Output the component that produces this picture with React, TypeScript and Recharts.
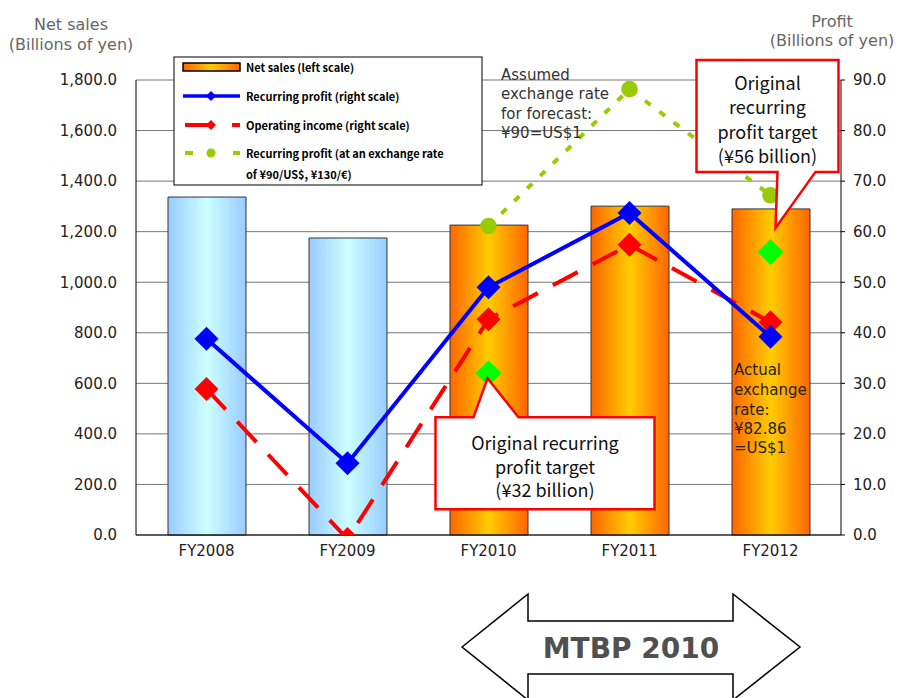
import React from 'react';
import { ComposedChart, Bar, Line, XAxis, YAxis, CartesianGrid, Cell, ReferenceDot } from 'recharts';

// Fiscal years and results (net sales in billions of yen, profits on the right scale)
const years = ['FY2008', 'FY2009', 'FY2010', 'FY2011', 'FY2012'];
const netSales = [1337, 1175, 1226, 1301, 1290];
const recurringProfit = [38.8, 14.2, 49.0, 63.7, 39.2];
const operatingIncome = [28.9, -0.8, 42.7, 57.4, 42.1];
const profitAtPlanRate = [null, null, 61.1, 88.2, 67.2];
const originalTarget = [null, null, 32, null, 56];
const mtbpPeriod = [false, false, true, true, true];

const salesTicks = [0, 200, 400, 600, 800, 1000, 1200, 1400, 1600, 1800];
const profitTicks = [0, 10, 20, 30, 40, 50, 60, 70, 80, 90];

const BLUE = '#0000ff';
const RED = '#ff0000';
const OLIVE = '#99cc00';
const LIME = '#00ff00';
const AXIS_FONT = 'DejaVu Sans, Verdana, sans-serif';
const JP_FONT = '"Noto Sans CJK JP", "Noto Sans", sans-serif';

const data = years.map((year, i) => ({
  year,
  netSales: netSales[i],
  recurringProfit: recurringProfit[i],
  operatingIncome: operatingIncome[i],
  profitAtPlanRate: profitAtPlanRate[i],
  originalTarget: originalTarget[i],
}));

const diamondDot = (color: string, half: number) => (props: any) => {
  const { cx, cy, index } = props;
  if (!Number.isFinite(cx) || !Number.isFinite(cy)) return <g key={`dot-${index}`} />;
  return (
    <path
      key={`dot-${index}`}
      d={`M${cx},${cy - half}L${cx + half},${cy}L${cx},${cy + half}L${cx - half},${cy}Z`}
      fill={color}
    />
  );
};

const circleDot = (color: string, r: number) => (props: any) => {
  const { cx, cy, index } = props;
  if (!Number.isFinite(cx) || !Number.isFinite(cy)) return <g key={`dot-${index}`} />;
  return <circle key={`dot-${index}`} cx={cx} cy={cy} r={r} fill={color} />;
};

// callout box sitting above its point, pointer coming out of the bottom edge
const CalloutAbove = (props: any) => {
  const { cx, cy, value } = props;
  const left = cx - 74;
  const right = cx + 68;
  const top = cy - 192;
  const bottom = cy - 80;
  const d = `M${left},${top}H${right}V${bottom}H${cx + 45}L${cx + 5},${cy - 24}L${cx + 7},${bottom}H${left}Z`;
  const lines = ['Original', 'recurring', 'profit target', `(¥${value} billion)`];
  return (
    <g>
      <path d={d} fill="#fff" stroke={RED} strokeWidth={2.5} />
      {lines.map((t, i) => (
        <text key={t} x={(left + right) / 2} y={top + 22 + i * 24.4} textAnchor="middle" dominantBaseline="central"
          fontFamily={JP_FONT} fontSize={18} fill="#111">
          {t}
        </text>
      ))}
    </g>
  );
};

// callout box sitting below its point, pointer coming out of the top edge
const CalloutBelow = (props: any) => {
  const { cx, cy, value } = props;
  const left = cx - 53;
  const right = cx + 166;
  const top = cy + 44;
  const bottom = cy + 136;
  const d = `M${left},${top}H${cx - 15}L${cx - 1},${cy + 5}L${cx + 30},${top}H${right}V${bottom}H${left}Z`;
  const lines = ['Original recurring', 'profit target', `(¥${value} billion)`];
  return (
    <g>
      <path d={d} fill="#fff" stroke={RED} strokeWidth={2.5} />
      {lines.map((t, i) => (
        <text key={t} x={(left + right) / 2} y={top + 25 + i * 23.5} textAnchor="middle" dominantBaseline="central"
          fontFamily={JP_FONT} fontSize={18} fill="#111">
          {t}
        </text>
      ))}
    </g>
  );
};

const legendText = { fontFamily: JP_FONT, fontSize: 11, fontWeight: 700, fill: '#000', dominantBaseline: 'central' } as const;

const Overlay = () => (
  <svg width={903} height={698} style={{ position: 'absolute', left: 0, top: 0, pointerEvents: 'none' }}>
    <defs>
      <linearGradient id="legendOrange" x1="0" y1="0" x2="1" y2="0">
        <stop offset="0%" stopColor="#ff6600" />
        <stop offset="50%" stopColor="#ffcc00" />
        <stop offset="100%" stopColor="#ff6600" />
      </linearGradient>
    </defs>

    {/* axis titles */}
    <g fontFamily={AXIS_FONT} fontSize={16} fill="#666" textAnchor="middle" dominantBaseline="central">
      <text x={71} y={24}>Net sales</text>
      <text x={71} y={44}>(Billions of yen)</text>
      <text x={832} y={21}>Profit</text>
      <text x={832} y={40}>(Billions of yen)</text>
    </g>

    {/* legend */}
    <rect x={174} y={57} width={308} height={128} fill="#fff" stroke="#000" />
    <rect x={183} y={63} width={57} height={8} fill="url(#legendOrange)" stroke="#000" strokeWidth={1.5} />
    <text x={246} y={67} {...legendText}>Net sales (left scale)</text>

    <line x1={183} y1={96} x2={240} y2={96} stroke={BLUE} strokeWidth={3.5} />
    <path d="M211,91L216,96L211,101L206,96Z" fill={BLUE} />
    <text x={246} y={96} {...legendText}>Recurring profit (right scale)</text>

    <line x1={185} y1={125} x2={213} y2={125} stroke={RED} strokeWidth={4} />
    <line x1={232} y1={125} x2={240} y2={125} stroke={RED} strokeWidth={4} />
    <path d="M211,120L216,125L211,130L206,125Z" fill={RED} />
    <text x={246} y={125} {...legendText}>Operating income (right scale)</text>

    <line x1={185} y1={153} x2={193} y2={153} stroke={OLIVE} strokeWidth={4} />
    <line x1={233} y1={153} x2={240} y2={153} stroke={OLIVE} strokeWidth={4} />
    <circle cx={211} cy={153} r={4.5} fill={OLIVE} />
    <text x={246} y={153} {...legendText}>Recurring profit (at an exchange rate</text>
    <text x={246} y={174} {...legendText}>of ¥90/US$, ¥130/€)</text>

    {/* exchange rate notes */}
    <g fontFamily={AXIS_FONT} fontSize={15} fill="#333" dominantBaseline="central">
      <text x={501} y={75}>Assumed</text>
      <text x={501} y={94}>exchange rate</text>
      <text x={501} y={114}>for forecast:</text>
      <text x={501} y={133}>¥90=US$1</text>
    </g>
    <g fontFamily={AXIS_FONT} fontSize={15} fill="#222" dominantBaseline="central">
      <text x={734} y={370}>Actual</text>
      <text x={734} y={390}>exchange</text>
      <text x={734} y={410}>rate:</text>
      <text x={734} y={429}>¥82.86</text>
      <text x={734} y={448}>=US$1</text>
    </g>

    {/* plan period arrow */}
    <path
      d="M462,647L528,594V621H733V594L800,647L733,700V674H528V700Z"
      fill="#fff"
      stroke="#000"
      strokeWidth={1.5}
    />
    <text x={631} y={648} textAnchor="middle" dominantBaseline="central" fontFamily={AXIS_FONT}
      fontWeight={700} fontSize={28} fill="#505050">
      MTBP 2010
    </text>
  </svg>
);

const tickStyle = { fill: '#222', fontSize: 15, fontFamily: AXIS_FONT };

export default function App() {
  return (
    <div style={{ position: 'relative', width: 903, height: 698 }}>
      <style>{'body{margin:0}'}</style>
      <ComposedChart width={903} height={698} data={data} margin={{ top: 80, right: 12, bottom: 133, left: 56 }}>
        <defs>
          <linearGradient id="pastBar" x1="0" y1="0" x2="1" y2="0">
            <stop offset="0%" stopColor="#99ccff" />
            <stop offset="50%" stopColor="#ccffff" />
            <stop offset="100%" stopColor="#99ccff" />
          </linearGradient>
          <linearGradient id="mtbpBar" x1="0" y1="0" x2="1" y2="0">
            <stop offset="0%" stopColor="#ff6600" />
            <stop offset="50%" stopColor="#ffcc00" />
            <stop offset="100%" stopColor="#ff6600" />
          </linearGradient>
        </defs>
        <CartesianGrid yAxisId="sales" vertical={false} stroke="#777" />
        <XAxis
          dataKey="year"
          height={30}
          tickLine={false}
          tickSize={0}
          tickMargin={10}
          axisLine={{ stroke: '#000' }}
          tick={{ fill: '#222', fontSize: 15, fontFamily: AXIS_FONT }}
        />
        <YAxis
          yAxisId="sales"
          width={80}
          domain={[0, 1800]}
          ticks={salesTicks}
          tickFormatter={(v: number) => v.toLocaleString('en-US', { minimumFractionDigits: 1 })}
          tickLine={false}
          tickSize={0}
          tickMargin={19}
          axisLine={{ stroke: '#000' }}
          tick={tickStyle}
        />
        <YAxis
          yAxisId="profit"
          orientation="right"
          width={50}
          domain={[0, 90]}
          allowDataOverflow
          ticks={profitTicks}
          tickFormatter={(v: number) => v.toFixed(1)}
          tickSize={4}
          tickMargin={8}
          tickLine={{ stroke: '#000' }}
          axisLine={{ stroke: '#000' }}
          tick={tickStyle}
        />
        <Bar yAxisId="sales" dataKey="netSales" barSize={78} stroke="#333" isAnimationActive={false}>
          {data.map((d, i) => (
            <Cell key={d.year} fill={mtbpPeriod[i] ? 'url(#mtbpBar)' : 'url(#pastBar)'} />
          ))}
        </Bar>
        <Line
          yAxisId="profit"
          dataKey="profitAtPlanRate"
          type="linear"
          stroke={OLIVE}
          strokeWidth={4}
          strokeDasharray="7 11"
          dot={circleDot(OLIVE, 8.3)}
          activeDot={false}
          isAnimationActive={false}
        />
        <Line
          yAxisId="profit"
          dataKey="operatingIncome"
          type="linear"
          stroke={RED}
          strokeWidth={4}
          strokeDasharray="28 17"
          dot={diamondDot(RED, 12)}
          activeDot={false}
          isAnimationActive={false}
        />
        <Line
          yAxisId="profit"
          dataKey="recurringProfit"
          type="linear"
          stroke={BLUE}
          strokeWidth={4}
          dot={diamondDot(BLUE, 12)}
          activeDot={false}
          isAnimationActive={false}
        />
        <Line
          yAxisId="profit"
          dataKey="originalTarget"
          type="linear"
          stroke="none"
          dot={diamondDot(LIME, 13)}
          activeDot={false}
          isAnimationActive={false}
        />
        <ReferenceDot
          yAxisId="profit"
          x={years[2]}
          y={originalTarget[2] as number}
          r={0}
          shape={(p: any) => <CalloutBelow {...p} value={originalTarget[2]} />}
        />
        <ReferenceDot
          yAxisId="profit"
          x={years[4]}
          y={originalTarget[4] as number}
          r={0}
          shape={(p: any) => <CalloutAbove {...p} value={originalTarget[4]} />}
        />
      </ComposedChart>
      <Overlay />
    </div>
  );
}
